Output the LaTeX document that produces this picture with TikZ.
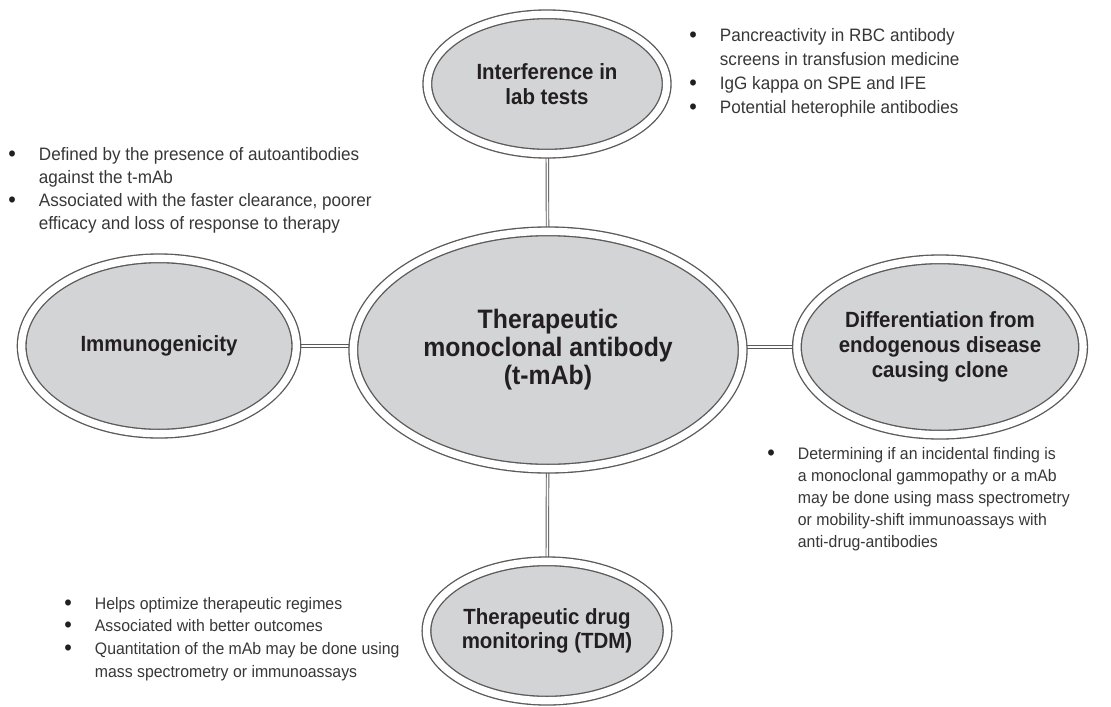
\documentclass[tikz,border=0pt]{standalone}
\usepackage{fontspec}
\setmainfont[FakeStretch=0.95, BoldFeatures={FakeStretch=0.93}]{Liberation Sans}
\usetikzlibrary{shapes.geometric,backgrounds}
\definecolor{bubblefill}{RGB}{211,212,214}
\definecolor{rimgray}{RGB}{90,90,90}
\definecolor{inktext}{RGB}{35,31,32}
\definecolor{notetext}{RGB}{55,55,55}
\newcommand{\bulletlist}[1]{\begin{tabular}[t]{@{}p{23pt}@{}l@{}}#1\end{tabular}}
\newcommand{\dotmark}{\raisebox{-0.9pt}{\fontsize{17}{17}\selectfont\color{inktext}\textbullet}}
\tikzset{
  bubble/.style={ellipse, inner sep=0pt, fill=bubblefill, draw=rimgray,
    line width=1pt, double=white, double distance=5.5pt, text=inktext,
    align=center, font=\bfseries\fontsize{16.5}{18.5}\selectfont},
  link/.style={draw=rimgray, line width=0.7pt, double=white, double distance=1.2pt},
  notes/.style={anchor=base west, inner sep=0pt, text=notetext,
    font=\fontsize{13.5}{17.3}\selectfont}
}
\begin{document}
\begin{tikzpicture}[x=0.75pt, y=-0.75pt]
            \useasboundingbox (0,0) rectangle (1111,707);
            % Ellipsen
            \node [bubble, minimum width=292pt, minimum height=178pt,
                   font=\bfseries\fontsize{20}{21}\selectfont] (mab) at (548,350)
                  {Therapeutic\\monoclonal antibody\\(t-mAb)};
            \node [bubble, minimum width=179.5pt, minimum height=104.5pt] (interf) at (547,84)
                  {Interference in\\lab tests};
            \node [bubble, minimum width=179.5pt, minimum height=104.5pt] (tdm) at (547,631)
                  {Therapeutic drug\\monitoring (TDM)};
            \node [bubble, minimum width=206pt, minimum height=131.5pt] (immuno) at (159,346)
                  {Immunogenicity};
            \node [bubble, minimum width=206pt, minimum height=131.5pt] (diff) at (940,347)
                  {Differentiation from\\endogenous disease\\causing clone};
            % Verbindungen
            \begin{scope}[on background layer]
              \draw [link] (mab) -- (interf);
              \draw [link] (mab) -- (tdm);
              \draw [link] (mab.west |- immuno) -- (immuno);
              \draw [link] (mab.east |- diff) -- (diff);
            \end{scope}
            % Listen
            \node [notes] (immunonotes) at (8,160) {\bulletlist{
              \dotmark & Defined by the presence of autoantibodies\\
                       & against the t-mAb\\
              \dotmark & Associated with the faster clearance, poorer\\
                       & efficacy and loss of response to therapy}};
            \node [notes, font=\fontsize{13.5}{18}\selectfont] (interfnotes) at (689,41) {\bulletlist{
              \dotmark & Pancreactivity in RBC antibody\\
                       & screens in transfusion medicine\\
              \dotmark & IgG kappa on SPE and IFE\\
              \dotmark & Potential heterophile antibodies}};
            \node [notes, font=\fontsize{12.5}{16.5}\selectfont] (diffnotes) at (767,459) {\bulletlist{
              \dotmark & Determining if an incidental finding is\\
                       & a monoclonal gammopathy or a mAb\\
                       & may be done using mass spectrometry\\
                       & or mobility-shift immunoassays with\\
                       & anti-drug-antibodies}};
            \node [notes, font=\fontsize{12.5}{17}\selectfont] (tdmnotes) at (64,609) {\bulletlist{
              \dotmark & Helps optimize therapeutic regimes\\
              \dotmark & Associated with better outcomes\\
              \dotmark & Quantitation of the mAb may be done using\\
                       & mass spectrometry or immunoassays}};
        \end{tikzpicture}
\end{document}
